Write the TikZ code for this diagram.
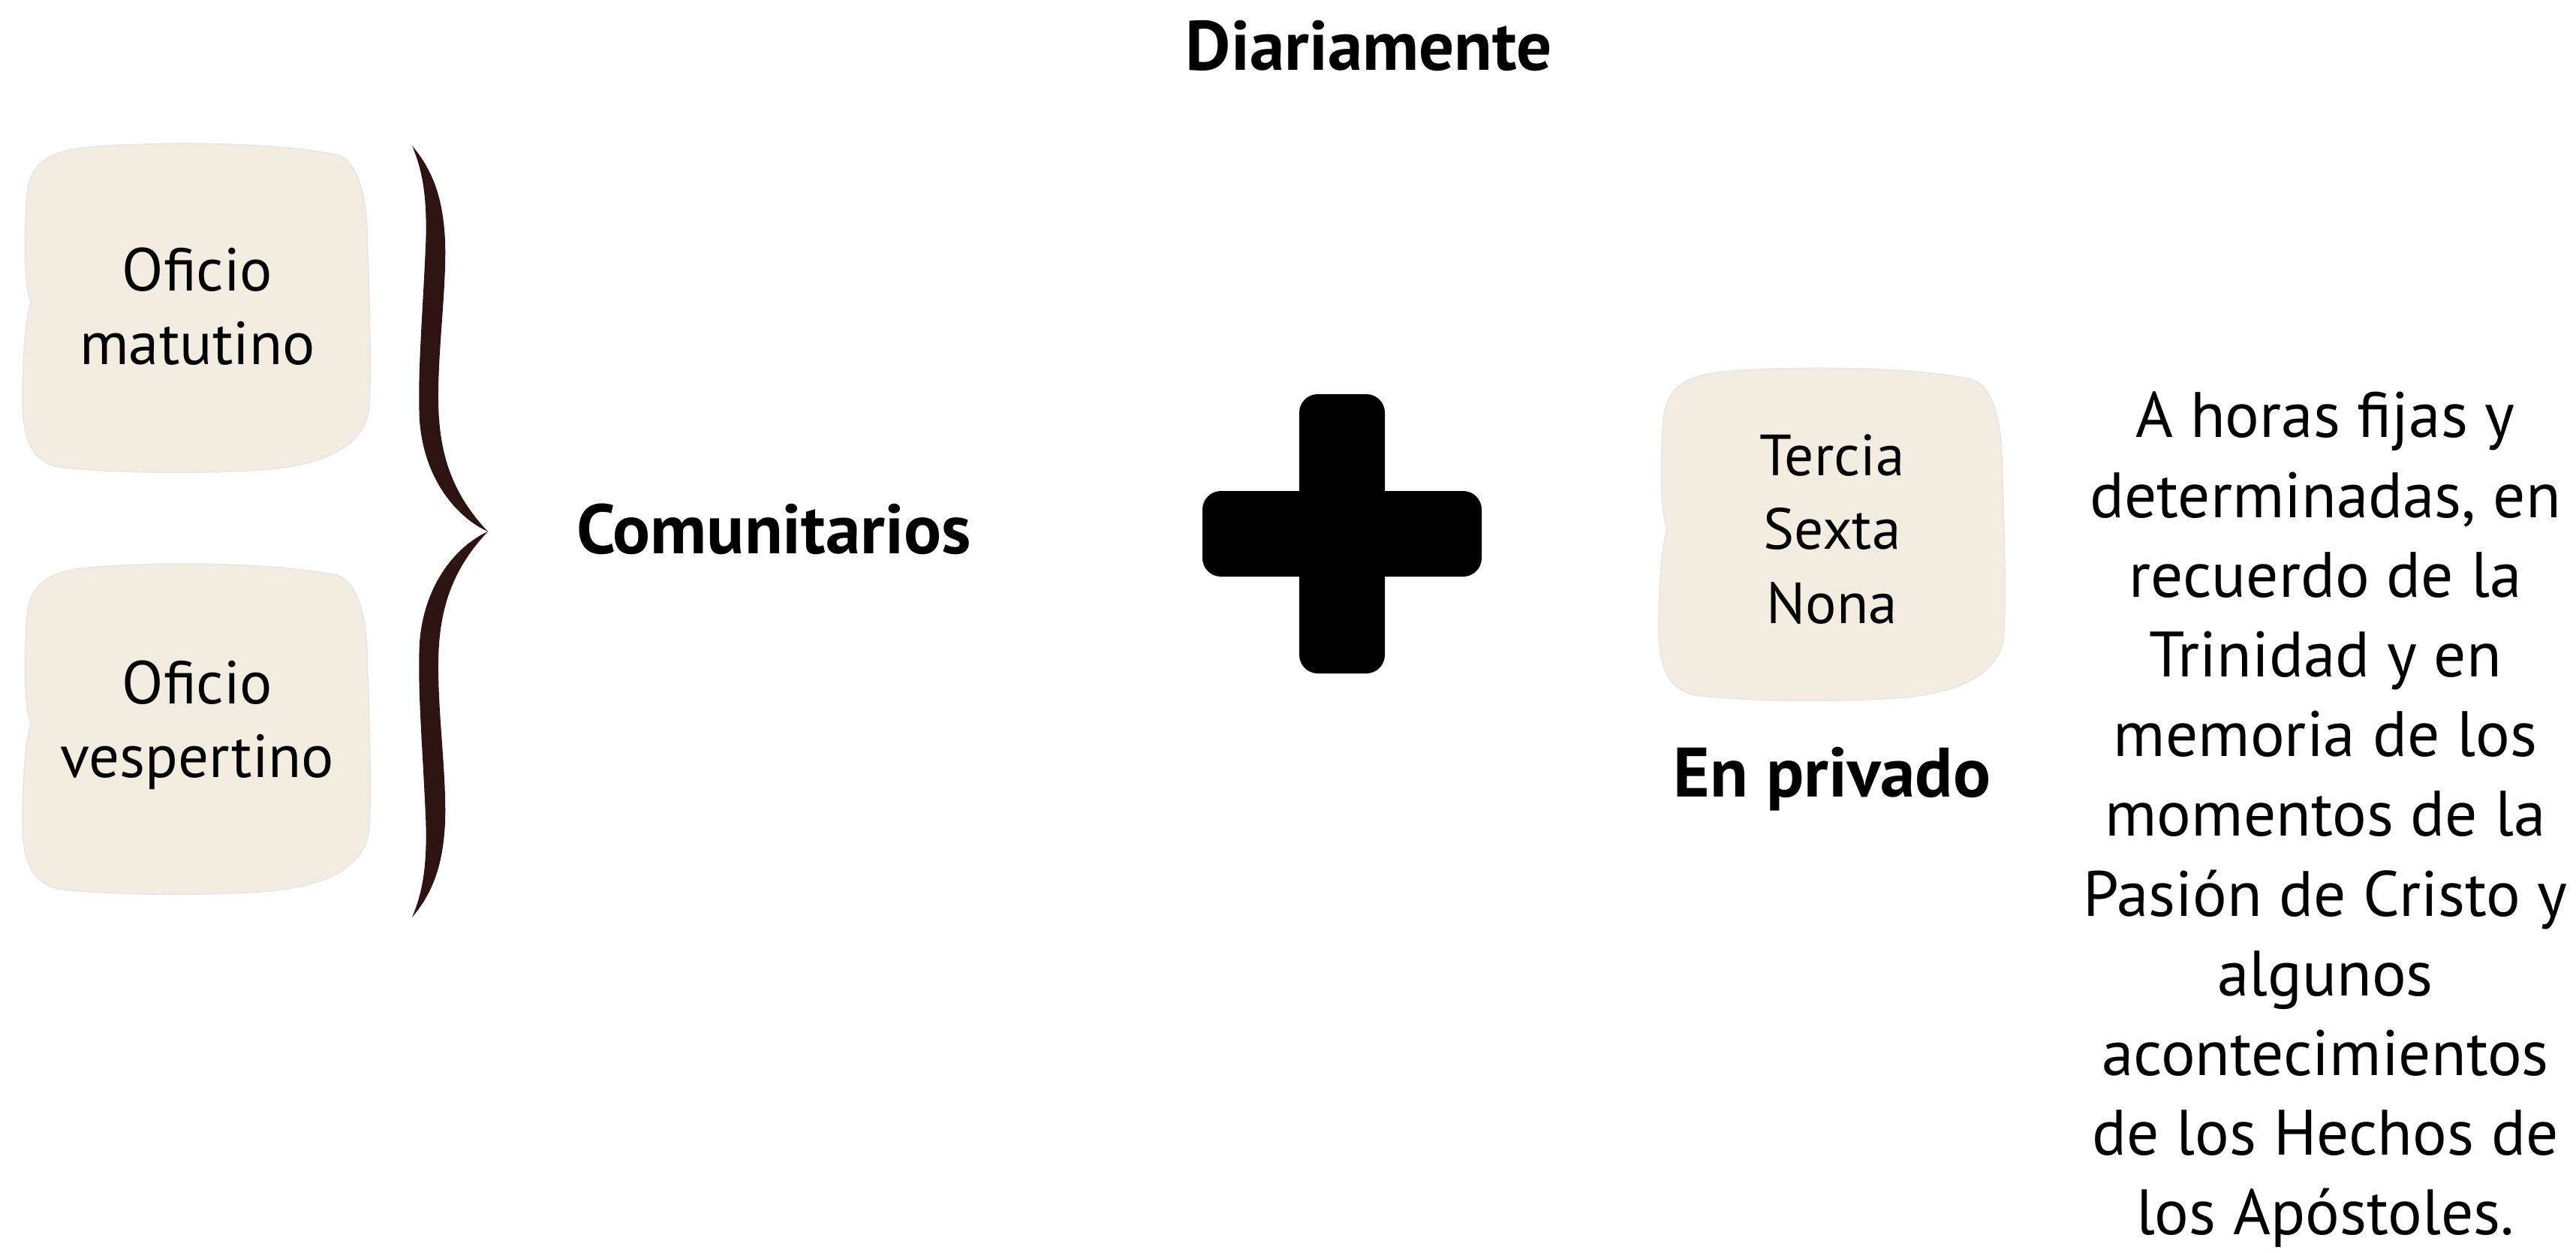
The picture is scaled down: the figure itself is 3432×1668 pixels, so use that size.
\documentclass[tikz,border=0pt]{standalone}
\usepackage{fontspec}
\setmainfont{PT Sans}
\usepackage{xcolor}
\usepackage{tikz}
\definecolor{parch}{HTML}{F3ECE0}
\definecolor{bracebrown}{HTML}{2E1313}

% soft paper-like box, #1,#2 = top left corner, #3 = width, #4 = height
\newcommand{\parchment}[4]{%
  \begin{scope}[shift={(#1,#2)},xscale=#3,yscale=#4]
    \filldraw[fill=parch,draw=black!10,line width=0.4pt]
      (0.151,0.016) .. controls (0.3,-0.005) and (0.7,-0.01) .. (0.90,0.034)
      .. controls (0.96,0.05) and (0.985,0.15) .. (0.989,0.256)
      .. controls (0.995,0.45) and (1.003,0.7) .. (0.995,0.8)
      .. controls (0.99,0.9) and (0.9,0.97) .. (0.72,0.99)
      .. controls (0.55,1.005) and (0.3,1.005) .. (0.114,0.986)
      .. controls (0.04,0.975) and (0.0,0.92) .. (0.0,0.785)
      .. controls (0.0,0.68) and (0.005,0.55) .. (0.024,0.482)
      .. controls (0.005,0.44) and (0.005,0.3) .. (0.011,0.18)
      .. controls (0.015,0.07) and (0.06,0.035) .. (0.151,0.016) -- cycle;
  \end{scope}}

% one half of the curly brace, from its end to the tip
\newcommand{\bracehalf}{%
  \fill[bracebrown]
    (549,194) .. controls (575,225) and (590,260) .. (593,320)
    .. controls (595,380) and (585,450) .. (584,520)
    .. controls (583,590) and (595,650) .. (650,708)
    .. controls (610,690) and (565,640) .. (559,560)
    .. controls (556,500) and (563,420) .. (567,330)
    .. controls (570,260) and (562,225) .. (549,194) -- cycle;}

\begin{document}
\begin{tikzpicture}[x=0.01cm,y=-0.01cm]
  \useasboundingbox (0,0) rectangle (3432,1668);
  \tikzstyle{boxtext}=[align=center,inner sep=0pt,font=\fontsize{23}{28}\selectfont]
  \tikzstyle{hourtext}=[align=center,inner sep=0pt,font=\fontsize{22}{28}\selectfont]
  \tikzstyle{heading}=[inner sep=0pt,font=\fontsize{26.5}{30}\selectfont\bfseries]
  \tikzstyle{notetext}=[align=center,inner sep=0pt,font=\fontsize{24.3}{30.2}\selectfont]

  % boxes
  \parchment{30}{191}{464}{438}
  \parchment{30}{751}{464}{440}
  \parchment{2210}{490}{462}{443}

  % brace
  \bracehalf
  \begin{scope}[shift={(0,1416)},yscale=-1]
    \bracehalf
  \end{scope}

  % plus sign
  \fill[rounded corners=7pt] (1731,525) rectangle (1845,897);
  \fill[rounded corners=7pt] (1602,654) rectangle (1974,768);

  \node[heading] (diario) at (1824,61) {Diariamente};
  \node[boxtext] (matutino) at (263,408) {Oficio\\matutino};
  \node[boxtext] (vespertino) at (263,966) {Oficio\\vespertino};
  \node[heading] (comun) at (1031,705) {Comunitarios};
  \node[hourtext] (horas) at (2441,705) {Tercia\\Sexta\\Nona};
  \node[heading] (privado) at (2441,1038) {En privado};
  \node[notetext] (nota) at (3098,1092) {A horas fijas y\\determinadas, en\\recuerdo de la\\Trinidad y en\\memoria de los\\momentos de la\\Pasión de Cristo y\\algunos\\acontecimientos\\de los Hechos de\\los Apóstoles.};
\end{tikzpicture}
\end{document}
